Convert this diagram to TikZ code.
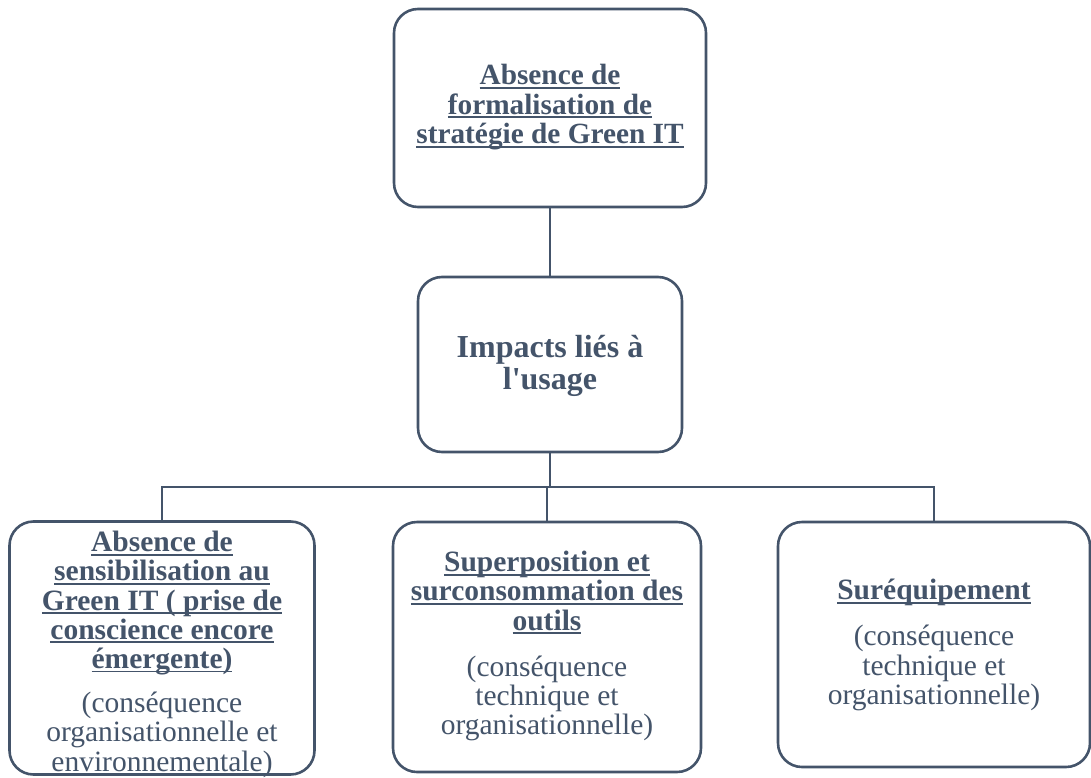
\documentclass[tikz,border=0pt]{standalone}
\usepackage{fontspec}
\setmainfont{Liberation Serif}
\definecolor{slate}{HTML}{44546A}
% underline at a fixed depth below the baseline, one line at a time
\newcommand\ulx[1]{\setbox0\hbox{#1}\rlap{\rule[-4pt]{\wd0}{1.8pt}}\box0}
\begin{document}
\begin{tikzpicture}[x=1pt,y=-1pt,
  box/.style={draw=slate, line width=2.6pt, rounded corners=24pt, fill=white, inner sep=0pt},
  txt/.style={text=slate, align=center, inner sep=0pt, anchor=north},
  link/.style={draw=slate, line width=2.4pt},
  toptext/.style={txt, font=\fontsize{29.3}{29.5}\selectfont\bfseries},
  midtext/.style={txt, font=\fontsize{32}{32}\selectfont\bfseries},
  lowtext/.style={txt, font=\fontsize{29.5}{29.2}\selectfont}]
\useasboundingbox (0,0) rectangle (1091,778);

% boxes
\node[box, minimum width=312pt, minimum height=198pt] (top) at (550,108) {};
\node[box, minimum width=264pt, minimum height=175pt] (mid) at (550,364.5) {};
\node[box, minimum width=305pt, minimum height=253pt] (b1) at (162,648) {};
\node[box, minimum width=308pt, minimum height=250pt] (b2) at (547,647) {};
\node[box, minimum width=312pt, minimum height=245pt] (b3) at (934,644.5) {};

% texts
\node[toptext] (t0) at (550,64)
  {\ulx{Absence de}\\\ulx{formalisation de}\\\ulx{stratégie de Green IT}};

\node[midtext] (t1) at (550,335)
  {Impacts liés à\\l\textquotesingle usage};

\node[lowtext] (t2) at (162,531)
  {\bfseries\ulx{Absence de}\\\bfseries\ulx{sensibilisation au}\\\bfseries\ulx{Green IT ( prise de}\\
   \bfseries\ulx{conscience encore}\\\bfseries\ulx{émergente)}\\[15pt]
   (conséquence\\organisationnelle et\\environnementale)};

\node[lowtext] (t3) at (547,551)
  {\bfseries\ulx{Superposition et}\\\bfseries\ulx{surconsommation des}\\\bfseries\ulx{outils}\\[17pt]
   \fontsize{29.5}{30}\selectfont (conséquence\\technique et\\organisationnelle)};

\node[lowtext] (t4) at (934,579)
  {\bfseries\ulx{Suréquipement}\\[17pt]
   (conséquence\\technique et\\organisationnelle)};

% connectors
\coordinate (bus) at (550,487);
\draw[link] (top.south) -- (mid.north);
\draw[link] (mid.south) -- (bus);
\draw[link] (b1.north) |- (bus) -| (b3.north);
\draw[link] (b2.north) -- (b2.north |- bus);
\end{tikzpicture}
\end{document}
